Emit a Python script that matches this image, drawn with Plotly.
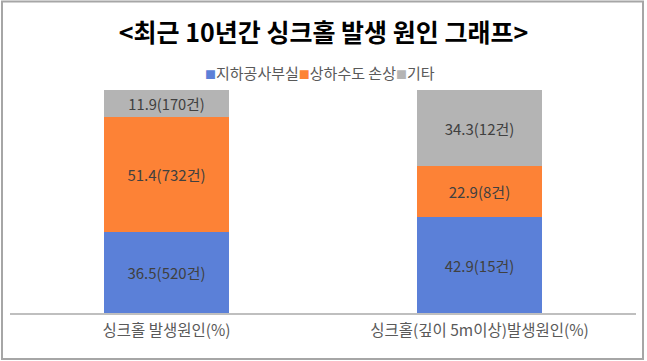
import plotly.graph_objects as go

categories = ["싱크홀 발생원인(%)", "싱크홀(깊이 5m이상)발생원인(%)"]
series_names = ["지하공사부실", "상하수도 손상", "기타"]
pct_underground = [36.5, 42.9]
pct_water = [51.4, 22.9]
pct_other = [11.9, 34.3]
cnt_underground = [520, 15]
cnt_water = [732, 8]
cnt_other = [170, 12]
colors = ["#5b80d8", "#fd8236", "#b4b4b4"]

W, H = 647, 361
ML, MR, MT, MB = 10, 11, 90, 48
pw, ph = W - ML - MR, H - MT - MB

def px_x(x):
    return (x - ML) / pw

def px_y(y):
    return (H - MB - y) / ph

fig = go.Figure()
for name, vals, cnts, col in zip(
    series_names,
    [pct_underground, pct_water, pct_other],
    [cnt_underground, cnt_water, cnt_other],
    colors,
):
    fig.add_trace(go.Bar(
        name=name, x=categories, y=vals,
        text=[f"{v}({c}건)" for v, c in zip(vals, cnts)],
        textposition="inside", insidetextanchor="middle",
        textfont=dict(size=15, color="#404040", family="Noto Sans CJK KR"),
        marker=dict(color=col, line=dict(width=0)),
        width=0.4,
        showlegend=False,
    ))

legend_text = "".join(
    f"<span style='color:{c};font-size:11px'>■</span>{n}"
    for n, c in zip(series_names, colors)
)

fig.update_layout(
    width=W, height=H,
    barmode="stack",
    margin=dict(l=ML, r=MR, t=MT, b=MB),
    paper_bgcolor="white", plot_bgcolor="white",
    font=dict(family="Noto Sans CJK KR", color="#595959"),
    title=dict(text="<b><최근 10년간 싱크홀 발생 원인 그래프></b>",
               x=0.5, xanchor="center", y=1 - 33 / H, yanchor="middle",
               font=dict(size=25, color="black", family="Noto Sans CJK KR")),
    xaxis=dict(showline=True, linecolor="#bfbfbf", linewidth=1.5,
               showgrid=False, ticks="", ticklabelstandoff=3,
               tickfont=dict(size=15.5, color="#595959")),
    yaxis=dict(range=[0, 100], visible=False, showgrid=False),
    annotations=[dict(text=legend_text, xref="paper", yref="paper",
                      x=px_x(320), y=px_y(72), xanchor="center", yanchor="middle",
                      showarrow=False, font=dict(size=15, color="#595959"))],
    shapes=[dict(type="rect", xref="paper", yref="paper",
                 x0=px_x(2), x1=px_x(643), y0=px_y(359), y1=px_y(1.5),
                 line=dict(color="#a6a6a6", width=2), layer="above")],
)

fig.write_html("out.html", config={"displayModeBar": False},
               post_script="document.body.style.margin='0';document.body.style.overflow='hidden';")
